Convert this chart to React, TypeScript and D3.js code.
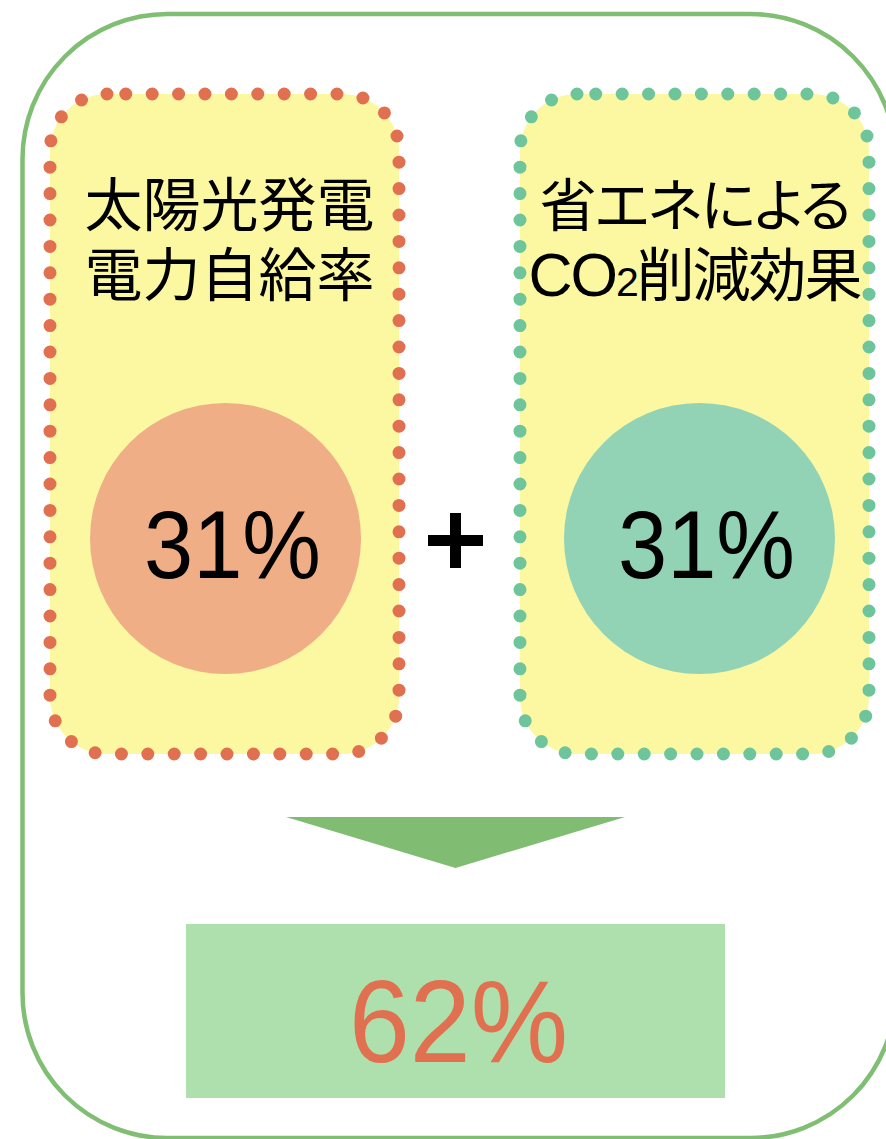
import { useMemo } from "react";
import * as d3 from "d3";

const WIDTH = 886;
const HEIGHT = 1139;

// panel data
const panelKeys = ["solar", "saving"];
const panelTitleLine1 = ["太陽光発電", "省エネによる"];
const panelValues = [31, 31];
const totalValue = 62;

const COLORS = {
  frame: "#80bf73",
  yellow: "#fbf8a1",
  dots: ["#e07050", "#6ec49b"],
  circles: ["#f0ae86", "#93d3b5"],
  arrow: "#80bd72",
  totalBox: "#ade0ad",
  totalText: "#e07050",
};

const JP_FONT = "'Noto Sans CJK JP', 'Noto Sans', sans-serif";
const NUM_FONT = "'Liberation Sans', Arial, sans-serif";

// rounded rect path that starts at top-left (after the corner) and runs counter-clockwise,
// so the dotted stroke joins on the top edge like the original
const roundedPath = (x: number, y: number, w: number, h: number, r: number) => {
  const p = d3.path();
  p.moveTo(x + r, y);
  p.arcTo(x, y, x, y + r, r);
  p.lineTo(x, y + h - r);
  p.arcTo(x, y + h, x + r, y + h, r);
  p.lineTo(x + w - r, y + h);
  p.arcTo(x + w, y + h, x + w, y + h - r, r);
  p.lineTo(x + w, y + r);
  p.arcTo(x + w, y, x + w - r, y, r);
  p.closePath();
  return p.toString();
};

const App = () => {
  // panels placed along x with a band scale
  const xScale = useMemo(
    () => d3.scaleBand().domain(panelKeys).range([50, 869]).paddingInner(0.2574).paddingOuter(0),
    []
  );
  const panelTop = 94;
  const panelHeight = 660;
  const bw = xScale.bandwidth();
  // circles sit a little off the box centres in the original
  const circleShift = [1, 5];

  // value -> radius (both are 31 so both circles are the same size)
  const rScale = d3.scaleSqrt().domain([0, 31]).range([0, 135.5]);

  const panels = panelKeys.map((key, i) => {
    const x0 = xScale(key) || 0;
    const cx = x0 + bw / 2;
    const ccx = cx + circleShift[i];
    return (
      <g key={key}>
        <rect x={x0} y={panelTop} width={bw} height={panelHeight} rx={57} fill={COLORS.yellow} />
        <path
          d={roundedPath(x0, panelTop, bw, panelHeight, 57)}
          fill="none"
          stroke={COLORS.dots[i]}
          strokeWidth={13}
          strokeLinecap="round"
          strokeDasharray="0 26.4"
        />
        {i === 0 ? (
          <text fontFamily={JP_FONT} fontSize={58} textAnchor="middle" fill="#000">
            <tspan x={cx + 5} y={226}>{panelTitleLine1[0]}</tspan>
            <tspan x={cx + 5} y={296}>電力自給率</tspan>
          </text>
        ) : (
          <g fontFamily={JP_FONT} fill="#000">
            <text
              x={cx + 1}
              y={226}
              fontSize={57}
              textAnchor="middle"
              textLength={312}
              lengthAdjust="spacing"
              style={{ fontFeatureSettings: "'palt'" }}
            >
              {panelTitleLine1[1]}
            </text>
            <text
              x={cx + 1}
              y={296}
              fontSize={58}
              textAnchor="middle"
              textLength={334}
              lengthAdjust="spacing"
            >
              <tspan fontFamily={NUM_FONT} fontSize={61}>CO</tspan>
              <tspan fontFamily={NUM_FONT} fontSize={41}>2</tspan>
              削減効果
            </text>
          </g>
        )}
        <circle cx={ccx} cy={538.5} r={rScale(panelValues[i])} fill={COLORS.circles[i]} />
        <text
          x={ccx + 7}
          y={578}
          fontFamily={NUM_FONT}
          fontSize={96}
          textAnchor="middle"
          textLength={177}
          lengthAdjust="spacingAndGlyphs"
          fill="#000"
        >
          {panelValues[i]}%
        </text>
      </g>
    );
  });

  // centre line for the plus, arrow and total box
  const midX = 455.5;
  const plus = (
    <g stroke="#000" strokeWidth={11}>
      <line x1={midX - 27.5} x2={midX + 27.5} y1={540.5} y2={540.5} />
      <line x1={midX} x2={midX} y1={513} y2={568} />
    </g>
  );

  const arrow = (
    <path
      d={`M${midX - 169.5},817 L${midX + 169.5},817 L${midX},868 Z`}
      fill={COLORS.arrow}
    />
  );

  const total = (
    <g>
      <rect x={midX - 269.5} y={924} width={539} height={174} fill={COLORS.totalBox} />
      <text
        x={midX + 3}
        y={1062}
        fontFamily={NUM_FONT}
        fontSize={117}
        textAnchor="middle"
        textLength={219}
        lengthAdjust="spacingAndGlyphs"
        fill={COLORS.totalText}
      >
        {totalValue}%
      </text>
    </g>
  );

  return (
    <svg
      width={WIDTH}
      height={HEIGHT}
      style={{ position: "absolute", left: 0, top: 0, background: "#fff" }}
    >
      <rect
        x={22.5}
        y={14}
        width={873}
        height={1124}
        rx={145}
        fill="#fff"
        stroke={COLORS.frame}
        strokeWidth={4.5}
      />
      <g>{panels}</g>
      {plus}
      {arrow}
      {total}
    </svg>
  );
};

export default App;
